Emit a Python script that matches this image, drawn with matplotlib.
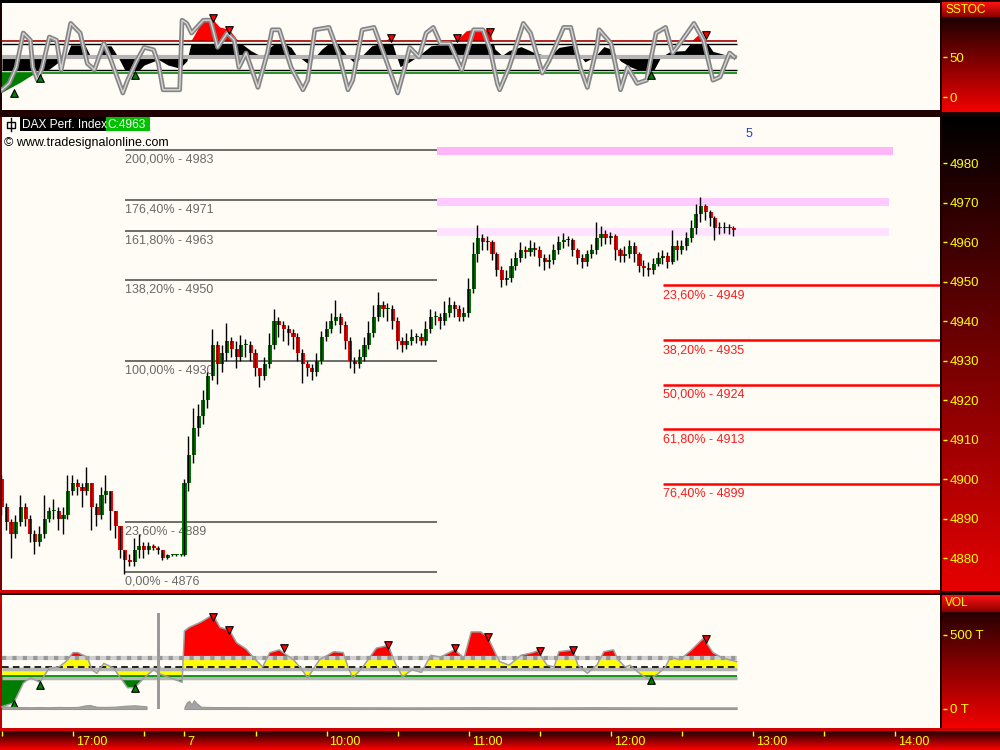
import numpy as np
import matplotlib.pyplot as plt
import matplotlib.transforms as mtransforms
from matplotlib.colors import LinearSegmentedColormap
from matplotlib.patches import Rectangle

plt.rcParams['font.family'] = ['Liberation Sans', 'DejaVu Sans']

# ---------------- price data, 2-minute bars ----------------
# day 1: bars from 16:30, one every 2 minutes
d1_open0 = 4900
d1_close = [4893, 4889, 4886, 4889, 4893, 4890, 4886, 4884, 4886, 4890,
            4892, 4892, 4890, 4891, 4897, 4899, 4898, 4897, 4899, 4893,
            4891, 4896, 4897, 4892, 4888, 4882, 4879.5, 4879, 4882, 4883,
            4882, 4883, 4882.5, 4882, 4880, 4880.8, 4880.8, 4880.8, 4880.8]
d1_high = [4901, 4894, 4890, 4891, 4896, 4894, 4891, 4887, 4888, 4896,
           4893, 4895, 4893, 4893, 4901, 4901, 4900, 4899, 4903, 4899,
           4894, 4898, 4901, 4897, 4892, 4888, 4882, 4881, 4885, 4886,
           4884, 4884, 4883.5, 4883, 4882, 4881, 4881, 4881, 4881]
d1_low = [4891, 4887, 4880, 4885, 4888, 4888, 4884, 4881, 4883, 4885,
          4889, 4890, 4887, 4886, 4890, 4896, 4896, 4893, 4896, 4887,
          4888, 4890, 4894, 4887, 4885, 4880, 4876, 4878, 4878, 4880,
          4880, 4881, 4882, 4881, 4879.5, 4879.8, 4880.5, 4880.5, 4880.5]

# day 2 (the 7th): bars from 9:00
d2_open0 = 4880.8
d2_close = [4899, 4906, 4913, 4916, 4920, 4926, 4934, 4929, 4932, 4935,
            4933, 4931, 4934, 4934, 4932, 4928, 4926, 4929, 4934, 4940,
            4939, 4938, 4937, 4936, 4932, 4929, 4928, 4927, 4930, 4936,
            4938, 4940, 4941, 4939, 4935, 4930, 4929, 4931, 4934, 4937,
            4941, 4944, 4943, 4943, 4940, 4935, 4934, 4935, 4936, 4936,
            4935, 4938, 4941, 4941, 4940, 4942, 4944, 4943, 4941, 4942,
            4948, 4957, 4961, 4960, 4960, 4957, 4953, 4950.5, 4951, 4954,
            4956, 4958, 4957.5, 4958.5, 4958, 4956, 4955, 4955.5, 4958, 4960,
            4960.5, 4960.5, 4958, 4956, 4955, 4957, 4958, 4961, 4962, 4961,
            4961.5, 4958, 4956.5, 4957, 4959, 4957, 4954, 4953.5, 4953, 4954.5,
            4956, 4956.5, 4955, 4959, 4958, 4959, 4961, 4963.5, 4967, 4969,
            4967.5, 4966, 4963.5, 4963.5, 4963.8, 4963.5, 4963]
d2_high = [4900, 4911, 4918, 4919, 4922.5, 4927, 4938, 4935, 4934, 4939.5,
           4936, 4935, 4936.5, 4935.5, 4935, 4933, 4928, 4931, 4937, 4943,
           4941, 4940, 4939, 4938, 4937, 4933, 4930, 4929, 4932, 4937.5,
           4940, 4942, 4945.3, 4942, 4940, 4936, 4931, 4933, 4936, 4940,
           4944, 4947.3, 4945, 4944.5, 4944, 4941, 4936, 4937, 4938, 4937,
           4937, 4940, 4943, 4942.5, 4942, 4945, 4946, 4945, 4944, 4943.5,
           4951, 4960, 4964.3, 4962, 4961.5, 4960.5, 4957.5, 4954, 4953, 4956,
           4957.5, 4960, 4959, 4960.5, 4960, 4959, 4957, 4957, 4959.5, 4961.5,
           4962.3, 4961.5, 4961, 4958.5, 4957, 4958, 4959.5, 4965, 4964, 4963,
           4962.5, 4962, 4958.5, 4959, 4960.5, 4960, 4957.5, 4955.5, 4955, 4956,
           4957.5, 4958, 4957.5, 4963, 4960.5, 4960.5, 4962.5, 4965.5, 4969.5, 4971.4,
           4969.5, 4968, 4966.5, 4965, 4965, 4964.5, 4964]
d2_low = [4880.5, 4897, 4904, 4911, 4914, 4918, 4925, 4924, 4927, 4930,
          4931, 4928, 4930, 4931, 4930, 4926, 4923.3, 4925, 4928, 4933,
          4936, 4935, 4934, 4933, 4930, 4924.3, 4926, 4925, 4926, 4929,
          4935, 4937, 4939, 4937, 4933, 4928, 4926.8, 4928, 4930, 4933,
          4936, 4940, 4941, 4940, 4938, 4933, 4932.2, 4933, 4934, 4934.5,
          4934, 4934, 4937, 4939, 4938, 4939, 4941, 4941, 4940, 4940,
          4941, 4947, 4955, 4958, 4958, 4955.5, 4951.5, 4948.6, 4949, 4950,
          4953, 4955, 4956, 4956.5, 4956.5, 4954, 4953, 4953.5, 4954.5, 4957,
          4958.5, 4959, 4956.5, 4954.5, 4953.5, 4954, 4956, 4957, 4959, 4959.5,
          4959.5, 4955.5, 4955, 4955, 4956, 4955, 4952.5, 4951.5, 4951.5, 4952,
          4954, 4954.5, 4953.5, 4954.5, 4955.5, 4957, 4958, 4960, 4962, 4965,
          4965.5, 4964, 4960.5, 4962, 4962.3, 4962, 4961.5]

# fibonacci drawings
fib_pct = [200.0, 176.4, 161.8, 138.2, 100.0, 23.6, 0.0]
fib_lvl = [4983.2, 4970.6, 4962.8, 4950.3, 4929.9, 4889.2, 4876.4]
ret_pct = [23.6, 38.2, 50.0, 61.8, 76.4]
ret_lvl = [4949.0, 4935.1, 4923.9, 4912.7, 4898.8]
band_lo = [4982.1, 4969.2, 4961.6]
band_hi = [4984.0, 4971.1, 4963.6]
band_end = [376, 374.3, 374.3]
band_col = ['#ffb6f8', '#ffcaff', '#ffe2ff']

# ---------------- SSTOC panel (x in minutes from 16:30, day 2 starts at 77) ----------------
k_x = [0, 3, 6, 9, 12, 13, 15, 17, 20, 23, 25, 29, 33, 36, 39, 43, 46, 51, 53, 57,
       60, 64, 66, 68, 75, 76, 78, 80, 85, 88, 91, 95, 98, 100, 103, 108, 112, 114, 117, 122,
       127, 129, 132, 138, 142, 146, 148, 152, 157, 161, 167, 170, 172, 176, 179, 182, 185, 189, 194, 199,
       203, 206, 209, 210, 214, 220, 223, 228, 231, 237, 240, 244, 247, 251, 252, 257, 261, 264, 268, 272,
       276, 280, 283, 287, 292, 296, 300, 303, 307, 309]
k_v = [9, 17, 37, 80, 71, 37, 21, 37, 75, 71, 34, 92, 80, 42, 34, 67, 46, 5, 21, 46,
       62, 59, 42, 9, 9, 96, 92, 80, 96, 96, 62, 80, 71, 37, 55, 12, 55, 84, 84, 37,
       9, 21, 84, 87, 55, 9, 21, 84, 87, 55, 5, 37, 62, 50, 80, 87, 67, 67, 34, 84,
       84, 59, 17, 9, 37, 92, 80, 30, 46, 87, 87, 37, 12, 62, 84, 67, 9, 37, 17, 21,
       80, 87, 55, 71, 92, 71, 21, 25, 55, 50]
d_x = [0, 3, 8, 15, 20, 24, 27, 29, 35, 37, 41, 43, 46, 49, 52, 56, 60, 66, 70, 75,
       78, 80, 85, 89, 92, 96, 100, 105, 110, 113, 117, 122, 124, 129, 132, 135, 140, 143, 146, 149,
       152, 156, 161, 164, 166, 168, 172, 176, 181, 187, 192, 196, 202, 206, 208, 211, 214, 219, 225, 231,
       235, 241, 243, 246, 250, 254, 257, 261, 265, 270, 274, 278, 282, 288, 292, 295, 297, 300, 305, 310]
d_v = [5, 10, 18, 31, 35, 44, 50, 65, 65, 53, 52, 64, 64, 50, 33, 28, 40, 47, 40, 36,
       45, 70, 96, 97, 87, 84, 69, 58, 50, 62, 71, 62, 53, 42, 50, 60, 72, 62, 50, 42,
       52, 64, 68, 74, 55, 38, 44, 52, 64, 66, 70, 82, 86, 82, 60, 52, 58, 63, 55, 51,
       62, 65, 55, 44, 50, 63, 60, 45, 38, 32, 28, 50, 57, 58, 72, 80, 70, 57, 53, 50]
st_dn_x = [89, 96, 164, 192, 206, 297]
st_dn_v = [99, 84, 74, 74, 81, 78]
st_up_x = [5, 16, 56, 274]
st_up_v = [5, 24, 27, 27]

# ---------------- VOL panel ----------------
o_x = [0, 5, 9, 12, 16, 20, 24, 27, 30, 32, 36, 38, 40, 43, 47, 50, 53, 56, 60, 64,
       66, 70, 76, 77, 79, 84, 89, 92, 96, 99, 103, 106, 110, 113, 117, 123, 126, 129, 134, 140,
       144, 146, 148, 152, 158, 163, 166, 169, 173, 177, 181, 185, 191, 195, 198, 202, 205, 209, 210, 214,
       219, 224, 226, 230, 233, 235, 241, 243, 247, 251, 254, 258, 260, 263, 265, 269, 273, 277, 280, 282,
       286, 291, 296, 300, 304, 310]
o_v = [-44, -40, -18, -12, -17, -1, 0, 6, 16, 16, 11, -3, -7, 4, -1, -12, -23, -23, -12, -3,
       -7, -11, -17, 40, 44, 50, 58, 44, 41, 27, 20, 11, 0, 16, 19, 8, -1, -12, 8, 17,
       16, 0, -12, -1, 21, 24, 4, -11, -3, -6, 13, 11, 19, 10, 39, 39, 33, 11, 6, 2,
       13, 16, 18, 2, 0, 17, 19, 2, -7, 2, 17, 19, 8, 0, 2, -7, -14, -7, 0, 11,
       8, 19, 32, 16, 10, 6]
vo_dn_x = [89, 96, 119, 163, 191, 205, 227, 241, 297]
vo_dn_v = [56, 41, 21, 24, 21, 33, 18, 19, 31]
vo_up_x = [5, 16, 56, 274]
vo_up_v = [-41, -20, -23, -15]

vol1_x = [0, 4, 8, 12, 16, 20, 24, 28, 32, 35, 37, 40, 44, 48, 52, 56, 61]
vol1_v = [20, 14, 13, 12, 13, 12, 14, 13, 14, 24, 27, 15, 14, 16, 22, 25, 18]
spike_x, spike_v = 66, 650
vol2_x = [77, 78, 79, 80, 81, 82, 83, 84, 86, 90, 110, 140, 170, 200, 230, 250, 280, 310]
vol2_v = [12, 45, 55, 30, 60, 40, 28, 15, 14, 13, 12, 12, 11, 12, 11, 12, 11, 11]

tick_pos = [0, 30, 60, 77, 107, 137, 167, 197, 227, 257, 287, 317, 347, 377]
tick_lab = ['', '17:00', '', '7', '', '10:00', '', '11:00', '', '12:00', '', '13:00', '', '14:00']

# ---------------- figure ----------------
W, H = 1000, 750
CREAM = '#fffcf5'
YEL = '#ffff00'
XMIN, XMAX = -0.4, 395.8


def fig_rect(x0, y0, x1, y1):
    return [x0 / W, 1 - y1 / H, (x1 - x0) / W, (y1 - y0) / H]


fig = plt.figure(figsize=(10, 7.5), dpi=100, facecolor='#1c0000')
bg = fig.add_axes([0, 0, 1, 1])
bg.axis('off')


def box(a, x0, y0, x1, y1, c):
    a.add_patch(Rectangle((x0, y0), x1 - x0, y1 - y0, color=c, lw=0))


def grad(x0, y0, x1, y1, top, bot):
    cm = LinearSegmentedColormap.from_list('g', [top, bot])
    bg.imshow(np.linspace(0, 1, 200).reshape(-1, 1), cmap=cm, aspect='auto',
              extent=(x0, x1, y1, y0), origin='upper')


box(bg, 0, 0, 940, 3, '#000000')
box(bg, 2, 3, 940, 110, CREAM)
box(bg, 0, 110, 940, 117, '#200000')
box(bg, 0, 117, 2, 590, '#7a0000')
box(bg, 2, 117, 940, 590, CREAM)
box(bg, 0, 590, 940, 593, '#d40000')
box(bg, 0, 595, 2, 728, '#c00000')
box(bg, 2, 595, 940, 728, CREAM)
grad(942, 2, 1000, 17, '#ff1414', '#8a0000')
grad(942, 17, 1000, 112, '#1c0000', '#f20000')
grad(942, 116, 1000, 591, '#000000', '#e60000')
grad(942, 595, 1000, 612, '#ff1414', '#8a0000')
grad(942, 612, 1000, 728, '#280000', '#f20000')
box(bg, 0, 728, 1000, 731, '#d00000')
grad(0, 731, 1000, 750, '#200000', '#ff0000')
bg.set_xlim(0, W)
bg.set_ylim(H, 0)

ax_top = fig.add_axes(fig_rect(1, 3, 940, 110))
ax_main = fig.add_axes(fig_rect(1, 117, 940, 590))
ax_vol = fig.add_axes(fig_rect(1, 595, 940, 728))
ax_osc = ax_vol.twinx()
ax_osc.set_zorder(1)
ax_vol.set_zorder(2)

for a in (ax_top, ax_main, ax_vol, ax_osc):
    a.set_facecolor('none')
    a.patch.set_visible(False)
    for s in a.spines.values():
        s.set_visible(False)
    a.set_xlim(XMIN, XMAX)
    a.spines['right'].set_position(('outward', 2.5))
    a.spines['bottom'].set_position(('outward', 2.2))

for a in (ax_top, ax_main, ax_vol):
    a.yaxis.tick_right()
    a.tick_params(axis='y', colors=YEL, length=3, width=1, pad=1.5,
                  labelsize=9.5, direction='out')
for a in (ax_top, ax_main):
    a.tick_params(axis='x', bottom=False, labelbottom=False)
ax_osc.set_yticks([])

# ---- candles ----
x1 = np.arange(len(d1_close)) * 2
x2 = 77 + np.arange(len(d2_close)) * 2
xs = np.concatenate([x1, x2])
closes = np.array(d1_close + d2_close, dtype=float)
opens = np.array([d1_open0] + d1_close[:-1] + [d2_open0] + d2_close[:-1], dtype=float)
highs = np.array(d1_high + d2_high, dtype=float)
lows = np.array(d1_low + d2_low, dtype=float)

up = closes >= opens
body_lo = np.minimum(opens, closes)
body_h = np.maximum(np.abs(closes - opens), 0.25)
ax_main.bar(xs, body_h, bottom=body_lo, width=1.75,
            color=np.where(up, '#007800', '#ff0000'), lw=0, zorder=3)
ax_main.vlines(xs - 0.35, lows, highs, color='black', lw=1.0, zorder=4)
ax_main.set_ylim(4871.9, 4991.65)
ax_main.set_yticks(range(4880, 4990, 10))

# fib extension (left)
fx0, fx1 = 51.9, 183.5
ax_main.hlines(fib_lvl, fx0, fx1, color='#555555', lw=1.2, zorder=1)
for p, l in zip(fib_pct, fib_lvl):
    ax_main.annotate(f"{p:.2f}".replace('.', ',') + f"% - {l:.0f}", (fx0, l),
                     xytext=(0, -2.5), textcoords='offset points', va='top', ha='left',
                     fontsize=9, color='#6a6a6a', zorder=1)
for lo, hi, xe, c in zip(band_lo, band_hi, band_end, band_col):
    ax_main.add_patch(Rectangle((fx1, lo), xe - fx1, hi - lo, color=c, lw=0, zorder=0.5))
ax_main.text(315, 4987.3, '5', color='#1f3fc4', fontsize=9, ha='center', va='center')

# fib retracement (right)
rx0 = 278.9
ax_main.hlines(ret_lvl, rx0, XMAX, color='#ff0000', lw=1.8, zorder=1)
for p, l in zip(ret_pct, ret_lvl):
    ax_main.annotate(f"{p:.2f}".replace('.', ',') + f"% - {l:.0f}", (rx0, l),
                     xytext=(0, -3), textcoords='offset points', va='top', ha='left',
                     fontsize=9, color='#ff1a1a', zorder=1)

# ---- SSTOC ----
x_end = xs[-1] + 1
dv = np.array(d_v, dtype=float)
blk = ax_top.fill_between(d_x, 50, dv, color='black', lw=0, zorder=1)
blk.set_clip_path(Rectangle((XMIN, 34), XMAX - XMIN, 32, transform=ax_top.transData))
ax_top.fill_between(d_x, 70, dv, where=dv > 70, interpolate=True, color='#ff0000', lw=0, zorder=1)
ax_top.fill_between(d_x, 30, dv, where=dv < 30, interpolate=True, color='#007c00', lw=0, zorder=1)
ax_top.hlines(50, 0, x_end, color='#b4b4b4', lw=3, zorder=2)
ax_top.hlines(70, 0, x_end, color='#a00000', lw=1.2, zorder=2)
ax_top.hlines([66, 34], 0, x_end, color='black', lw=1, zorder=2)
ax_top.hlines(30, 0, x_end, color='#008000', lw=1.2, zorder=2)
ax_top.plot(k_x, k_v, color='#858585', lw=3.4, zorder=3, solid_joinstyle='round')
ax_top.plot(k_x, k_v, color='#d6d6d6', lw=1.0, zorder=3)
ax_top.scatter(st_dn_x, st_dn_v, marker='v', s=30, color='#ff0000', edgecolors='black', lw=0.8, zorder=4)
ax_top.scatter(st_up_x, st_up_v, marker='^', s=30, color='#008000', edgecolors='black', lw=0.8, zorder=4)
ax_top.set_ylim(-16.25, 117.5)
ax_top.set_yticks([0, 50])

# ---- VOL ----
ov = np.array(o_v, dtype=float)
yel = ax_osc.fill_between(o_x, 0, ov, color='#ffff00', lw=0, zorder=1)
yel.set_clip_path(Rectangle((XMIN, -10), XMAX - XMIN, 20, transform=ax_osc.transData))
ax_osc.fill_between(o_x, 10, ov, where=ov > 10, interpolate=True, color='#ff0000', lw=0, zorder=1)
ax_osc.fill_between(o_x, -10, ov, where=ov < -10, interpolate=True, color='#007c00', lw=0, zorder=1)
ax_osc.hlines(10, 0, x_end, color='#cfcfcf', lw=3, zorder=2)
ax_osc.hlines(10, 0, x_end, color='#979797', lw=3, linestyle=(0, (1, 1.5)), zorder=2)
ax_osc.hlines(-2, 0, x_end, color='#b4b4b4', lw=2.5, zorder=2)
ax_osc.hlines(0, 0, x_end, color='black', lw=1.2, linestyle=(0, (4, 2.5)), zorder=2)
ax_osc.hlines(-12, 0, x_end, color='#b4b4b4', lw=2.5, zorder=2)
ax_osc.hlines(-10, 0, x_end, color='#009000', lw=1.3, zorder=2)
ax_osc.plot(o_x, o_v, color='#a0a0a0', lw=1.1, zorder=3)
ax_osc.scatter(vo_dn_x, vo_dn_v, marker='v', s=30, color='#ff0000', edgecolors='black', lw=0.8, zorder=4)
ax_osc.scatter(vo_up_x, vo_up_v, marker='^', s=30, color='#008000', edgecolors='black', lw=0.8, zorder=4)
ax_osc.set_ylim(-67.8, 80)

ax_vol.fill_between(vol1_x, 0, vol1_v, color='#a4a4a4', lw=0.8, edgecolor='#969696')
ax_vol.fill_between(vol2_x, 0, vol2_v, color='#a4a4a4', lw=0.8, edgecolor='#969696')
ax_vol.bar(spike_x, spike_v, width=1.3, color='#9a9a9a', lw=0)
ax_vol.set_ylim(-128.4, 770)
ax_vol.set_yticks([0, 500])
ax_vol.set_yticklabels(['0 T', '500 T'])

ax_vol.set_xticks(tick_pos)
ax_vol.set_xticklabels(tick_lab)
ax_vol.tick_params(axis='x', colors=YEL, length=3.5, width=1, pad=0.3,
                   labelsize=9, direction='out')
shift = mtransforms.ScaledTranslation(2 / 72, 0, fig.dpi_scale_trans)
for lab in ax_vol.get_xticklabels():
    lab.set_horizontalalignment('left')
    lab.set_transform(lab.get_transform() + shift)

# ---- header texts ----
fg = fig.add_axes([0, 0, 1, 1], zorder=10)
fg.axis('off')
fg.set_xlim(0, W)
fg.set_ylim(H, 0)
box(fg, 20, 117, 106, 131, '#000000')
box(fg, 106, 117, 150, 131, '#00c000')
fg.plot([11, 11], [118, 131], color='black', lw=1)
fg.add_patch(Rectangle((7, 121.5), 8, 6, facecolor='white', edgecolor='black', lw=1))
fg.text(22, 124.5, 'DAX Perf. Index', color='white', fontsize=8.6, va='center', ha='left')
fg.text(107, 124.5, f"C:{d2_close[-1]:.0f}", color='white', fontsize=8.6, va='center', ha='left')
fg.text(4, 143, '\u00a9 www.tradesignalonline.com', color='black', fontsize=9, va='center', ha='left')
fg.text(945, 10, 'SSTOC', color=YEL, fontsize=8.6, va='center', ha='left')
fg.text(945, 603, 'VOL', color=YEL, fontsize=8.6, va='center', ha='left')

fig.savefig('out.png', dpi=100, facecolor=fig.get_facecolor())
